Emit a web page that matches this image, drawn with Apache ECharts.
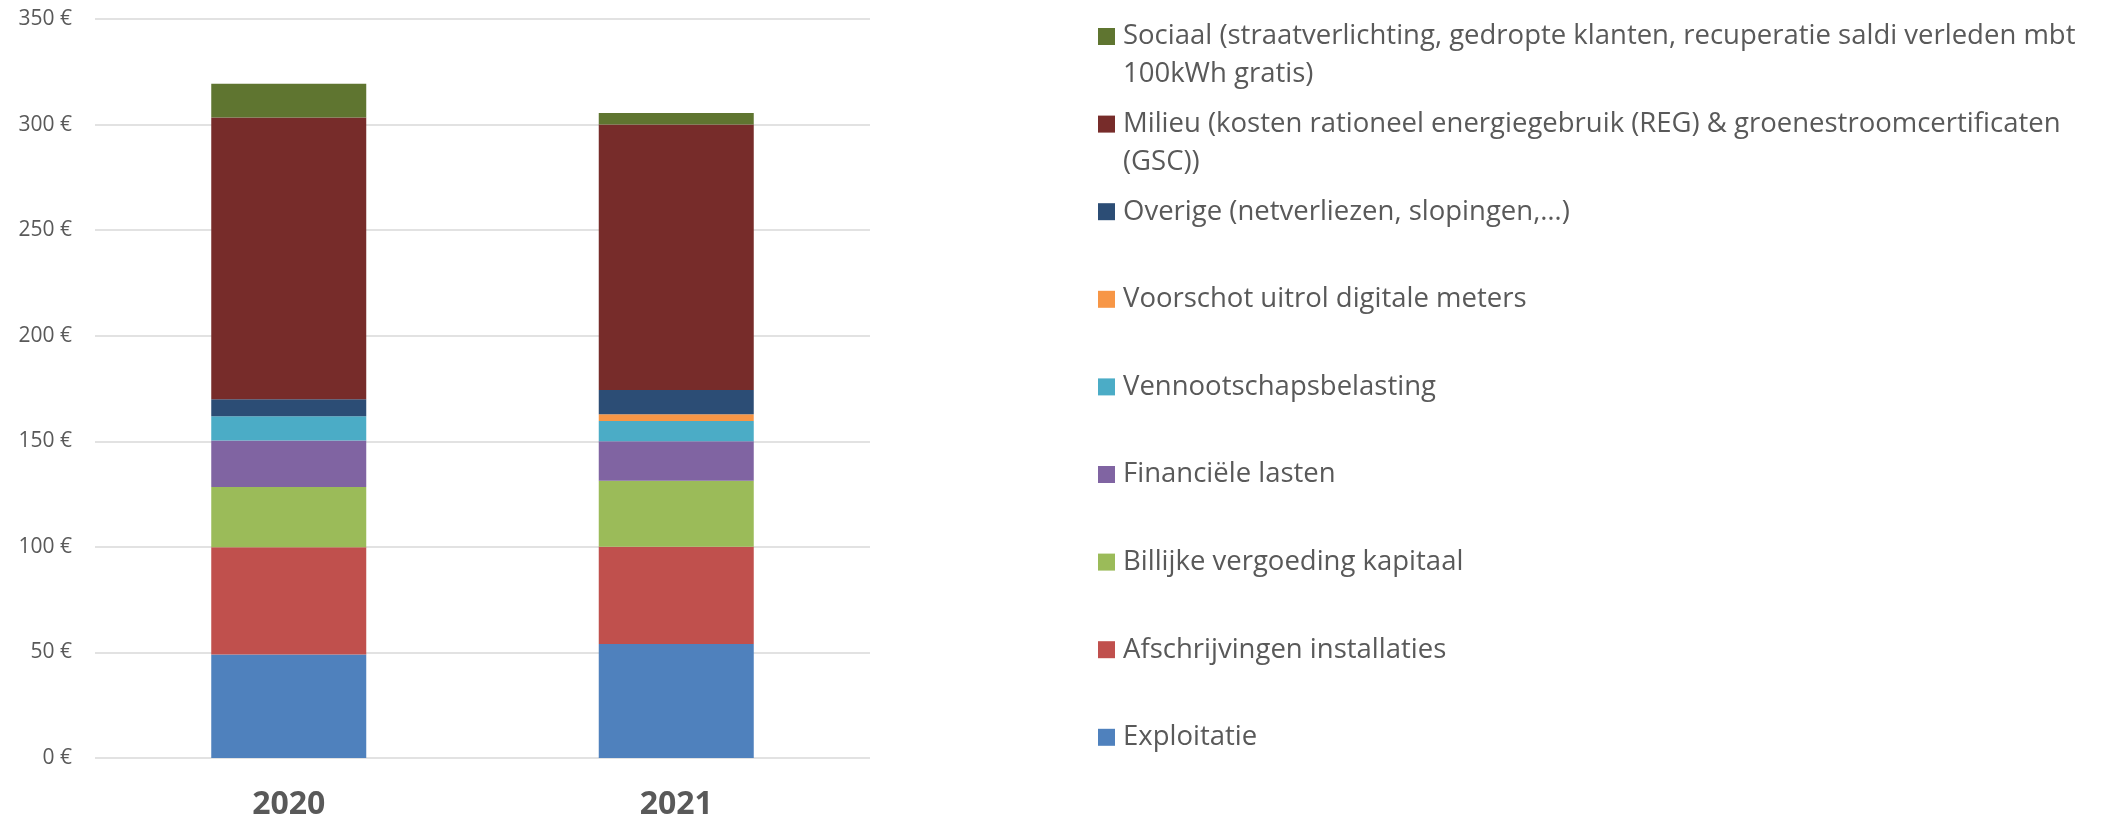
<!DOCTYPE html>
<html>
<head>
<meta charset="utf-8">
<script src="https://cdn.jsdelivr.net/npm/echarts@6/dist/echarts.min.js"></script>
<style>
  html, body { margin: 0; padding: 0; background: #fff; }
  #chart { width: 2116px; height: 823px; }
</style>
</head>
<body>
<div id="chart"></div>
<script>
// categorieën (jaren)
const years = ["2020", "2021"];

// reeksen, van onder naar boven gestapeld
const seriesNames = [
  "Exploitatie",
  "Afschrijvingen installaties",
  "Billijke vergoeding kapitaal",
  "Financiële lasten",
  "Vennootschapsbelasting",
  "Voorschot uitrol digitale meters",
  "Overige (netverliezen, slopingen,…)",
  "Milieu (kosten rationeel energiegebruik (REG) & groenestroomcertificaten (GSC))",
  "Sociaal (straatverlichting, gedropte klanten, recuperatie saldi verleden mbt 100kWh gratis)"
];

const exploitatie = [49, 54];
const afschrijvingen = [50.8, 46];
const billijkeVergoeding = [28.6, 31.3];
const financieleLasten = [22, 18.7];
const vennootschapsbelasting = [11.5, 9.6];
const voorschotDigitaleMeters = [0, 3.2];
const overige = [8, 11.5];
const milieu = [133.4, 125.7];
const sociaal = [16, 5.5];

const seriesValues = [
  exploitatie, afschrijvingen, billijkeVergoeding, financieleLasten,
  vennootschapsbelasting, voorschotDigitaleMeters, overige, milieu, sociaal
];

const colors = [
  "#4F81BD", "#C0504D", "#9BBB59", "#8064A2", "#4BACC6",
  "#F79646", "#2C4D75", "#772C2A", "#5F7530"
];

// y-as
const yMax = 350;
const yStep = 50;

// waar de legendetekst afbreekt (zoals in het origineel)
const wrapAt = ["mbt ", "groenestroomcertificaten "];

const chart = echarts.init(document.getElementById("chart"));

const textColor = "#595959";
const font = "'Open Sans', sans-serif";
const lineH = 38;

function wrapName(name) {
  for (const w of wrapAt) {
    const i = name.indexOf(w);
    if (i >= 0) return name.slice(0, i + w.length - 1) + "\n" + name.slice(i + w.length);
  }
  return name;
}

// legende: één component per item, van boven (Sociaal) naar onder (Exploitatie)
// bij twee regels: lege regel ervoor, zodat de eerste regel naast het blokje staat
const legends = [];
const legendOrder = seriesNames.slice().reverse();
legendOrder.forEach((name, k) => {
  const center = 36.5 + 87.6 * k;
  const twoLines = wrapName(name).indexOf("\n") >= 0;
  legends.push({
    data: [name],
    orient: "vertical",
    left: 1098,
    top: twoLines ? center - lineH * 1.5 : center - lineH / 2,
    padding: 0,
    itemWidth: 17,
    itemHeight: 17,
    icon: "rect",
    selectedMode: false,
    formatter: n => {
      const t = wrapName(n);
      return t.indexOf("\n") >= 0 ? " \n" + t : t;
    },
    textStyle: {
      color: textColor,
      fontFamily: font,
      fontSize: 27.5,
      lineHeight: lineH,
      padding: [0, 0, 0, 3]
    }
  });
});

const option = {
  backgroundColor: "#fff",
  animation: false,
  color: colors,
  legend: legends,
  grid: {
    left: 95,
    right: 1246,
    top: 19,
    bottom: 65,
    containLabel: false
  },
  xAxis: {
    type: "category",
    data: years,
    axisLine: { show: false },
    axisTick: { show: false },
    axisLabel: {
      color: textColor,
      fontFamily: font,
      fontWeight: "bold",
      fontSize: 32,
      margin: 31
    }
  },
  yAxis: {
    type: "value",
    min: 0,
    max: yMax,
    interval: yStep,
    axisLine: { show: false },
    axisTick: { show: false },
    splitLine: { lineStyle: { color: "#D9D9D9", width: 1.5 } },
    axisLabel: {
      color: textColor,
      fontFamily: font,
      fontSize: 21,
      margin: 23,
      formatter: v => v + " €"
    }
  },
  series: seriesNames.map((name, i) => ({
    name: name,
    type: "bar",
    stack: "totaal",
    barWidth: "40%",
    data: seriesValues[i],
    itemStyle: { color: colors[i] }
  }))
};

chart.setOption(option);
</script>
</body>
</html>
